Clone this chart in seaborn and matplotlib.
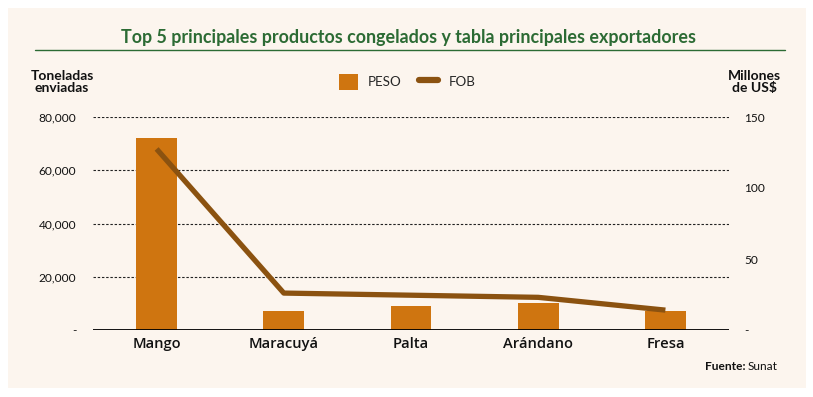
import matplotlib
matplotlib.use("Agg")
import matplotlib.pyplot as plt
import seaborn as sns
import numpy as np
import pandas as pd
from matplotlib.patches import Rectangle, Patch
from matplotlib.lines import Line2D

categories = ["Mango", "Maracuyá", "Palta", "Arándano", "Fresa"]
peso = [72000, 7300, 9100, 10300, 7300]
fob = [127.5, 26, 24.5, 23, 14]
left_ticks = [0, 20000, 40000, 60000, 80000]
left_labels = ["-", "20,000", "40,000", "60,000", "80,000"]
right_ticks = [0, 50, 100, 150]
right_labels = ["-", "50", "100", "150"]

BG = "#FCF5EE"
BAR = "#CF7510"
LINE = "#8B5210"
GREEN = "#2C6B34"
TXT = "#111111"

sns.set_theme(style="white")
plt.rcParams["font.family"] = ["Lato", "DejaVu Sans"]

fig = plt.figure(figsize=(8.13, 3.97), dpi=100)
fig.patch.set_facecolor("white")
fig.patches.append(Rectangle((8/813, 1-388/397), (806-8)/813, (388-8)/397,
                             transform=fig.transFigure, facecolor=BG,
                             edgecolor="none", zorder=-10))

ax = fig.add_axes([93/813, 1-330/397, (729-93)/813, (330-117)/397])
ax.set_facecolor("none")
df = pd.DataFrame({"cat": categories, "peso": peso, "fob": fob})
sns.barplot(data=df, x="cat", y="peso", color=BAR, saturation=1, width=0.32,
            ax=ax, zorder=3, edgecolor="none", linewidth=0)
ax.set_ylim(0, 80000)
ax.set_xlim(-0.5, len(categories)-0.5)
ax.set_yticks(left_ticks)
ax.set_yticklabels(left_labels, fontsize=8.6, color=TXT)
for y in left_ticks[1:]:
    ax.axhline(y, color="#222222", lw=0.8, ls=(0, (2.2, 1.6)), zorder=1)
ax.axhline(0, color="black", lw=1.3, zorder=4)
for s in ax.spines.values():
    s.set_visible(False)
ax.set_xlabel("")
ax.set_ylabel("")
ax.tick_params(axis="y", length=0, pad=12)
ax.tick_params(axis="x", length=0, pad=5)
for t in ax.get_xticklabels():
    t.set_fontsize(10.6)
    t.set_family(["Open Sans", "DejaVu Sans"])
    t.set_fontweight("semibold")
    t.set_color(TXT)

ax2 = ax.twinx()
sns.lineplot(x=np.arange(len(categories)), y=df["fob"], color=LINE, lw=3.8,
             ax=ax2, zorder=5, solid_capstyle="butt")
ax2.set_ylim(0, 150)
ax2.set_yticks(right_ticks)
ax2.set_yticklabels(right_labels, fontsize=8.6, color=TXT)
ax2.tick_params(axis="y", length=0, pad=11)
ax2.set_ylabel("")
for s in ax2.spines.values():
    s.set_visible(False)

fig.text(408/813, 1-38/397, "Top 5 principales productos congelados y tabla principales exportadores",
         ha="center", va="center", fontsize=12.9, fontweight="bold", color=GREEN)
fig.add_artist(Line2D([35/813, 785/813], [1-50/397, 1-50/397], color=GREEN, lw=1.0,
                      transform=fig.transFigure))
fig.text(62/813, 1-82/397, "Toneladas\nenviadas", ha="center", va="center",
         fontsize=10, fontweight="bold", color=TXT, linespacing=1.0)
fig.text(754/813, 1-82/397, "Millones\nde US$", ha="center", va="center",
         fontsize=10, fontweight="bold", color=TXT, linespacing=1.0)

handles = [Patch(facecolor=BAR, edgecolor="none"),
           Line2D([0], [0], color=LINE, lw=4.5, solid_capstyle="round")]
fig.legend(handles, ["PESO", "FOB"], loc="center", bbox_to_anchor=(407/813, 1-82/397),
           ncol=2, frameon=False, fontsize=9.6, handlelength=1.45, handleheight=1.5,
           columnspacing=1.3, handletextpad=0.75)

fig.text(748/813, 1-367/397, "Fuente: ", ha="right", va="center", fontsize=8.6,
         fontweight="bold", color=TXT)
fig.text(748/813, 1-367/397, "Sunat", ha="left", va="center", fontsize=8.6, color=TXT)

fig.savefig("out.png", dpi=100, facecolor="white")
